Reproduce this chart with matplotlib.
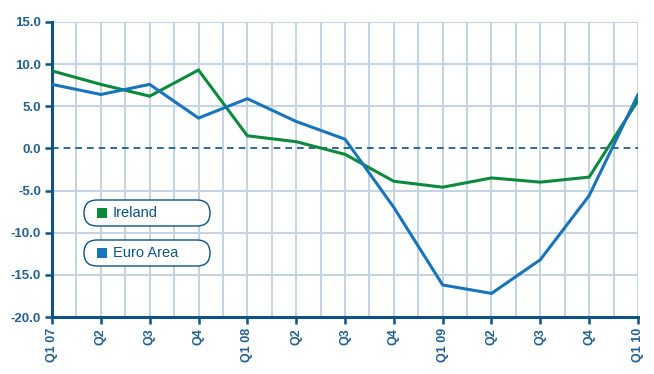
import matplotlib
matplotlib.use('Agg')
import matplotlib.pyplot as plt
from matplotlib.patches import FancyBboxPatch, Rectangle
import numpy as np

plt.rcParams['font.family'] = ['Liberation Sans', 'DejaVu Sans']

# quarterly growth data, Q1 2007 - Q1 2010
quarters = ['Q1 07', 'Q2', 'Q3', 'Q4', 'Q1 08', 'Q2', 'Q3', 'Q4',
            'Q1 09', 'Q2', 'Q3', 'Q4', 'Q1 10']
ireland = [9.2, 7.6, 6.2, 9.3, 1.5, 0.8, -0.7, -3.9, -4.6, -3.5, -4.0, -3.4, 5.7]
euro_area = [7.6, 6.4, 7.6, 3.6, 5.9, 3.2, 1.1, -7.0, -16.2, -17.2, -13.2, -5.6, 6.4]
yticks = [15, 10, 5, 0, -5, -10, -15, -20]

green = '#0b8a3c'
blue = '#1874bb'
dark = '#0d5385'
grid_c = '#c2d4e4'
label_c = '#24618f'

fig = plt.figure(figsize=(6.54, 3.74), dpi=100)
ax = fig.add_axes([52/654, 1-317/374, 586/654, 295/374])

x = np.arange(len(quarters))

# grid
for gx in np.arange(0.5, len(quarters) - 0.5 + 0.01, 0.5):
    ax.axvline(gx, color=grid_c, lw=1.4, zorder=1)
for gy in yticks:
    if gy not in (0, -20):
        ax.axhline(gy, color=grid_c, lw=1.4, zorder=1)
ax.axhline(0, color=dark, lw=1.2, ls=(0, (4, 3)), zorder=2)

ax.plot(x, ireland, color=green, lw=2.2, zorder=3, solid_joinstyle='miter')
ax.plot(x, euro_area, color=blue, lw=2.2, zorder=3, solid_joinstyle='miter')

ax.set_xlim(0, len(quarters) - 1)
ax.set_ylim(-20, 15)
ax.set_xticks(x)
ax.set_xticklabels(quarters, rotation=90, fontsize=9, fontweight='bold', color=label_c)
ax.set_yticks(yticks)
ax.set_yticklabels(['%.1f' % v for v in yticks], fontsize=9.5, fontweight='bold', color=label_c)
ax.tick_params(axis='both', color=dark, width=1.8, length=5, pad=3)

for s in ['top', 'right']:
    ax.spines[s].set_visible(False)
for s in ['left', 'bottom']:
    ax.spines[s].set_color(dark)
    ax.spines[s].set_linewidth(2.2)

# legend boxes drawn in inches
tr = fig.dpi_scale_trans
entries = [('Ireland', green, 200), ('Euro Area', blue, 240)]
for name, col, top in entries:
    h = 26
    box = FancyBboxPatch((84/100, (374 - top - h)/100), 126/100, h/100,
                         boxstyle='round,pad=0,rounding_size=0.13',
                         transform=tr, facecolor='white', edgecolor=dark, lw=1.0, zorder=5)
    fig.patches.append(box)
    fig.patches.append(Rectangle((97/100, (374 - top - 17.5)/100), 9.5/100, 9.5/100,
                                 transform=tr, facecolor=col, edgecolor='none', zorder=6))
    fig.text(113/654, 1 - (top + 13)/374, name, fontsize=10.5, color=dark,
             va='center', ha='left', zorder=7)

fig.savefig('out.png', dpi=100)
